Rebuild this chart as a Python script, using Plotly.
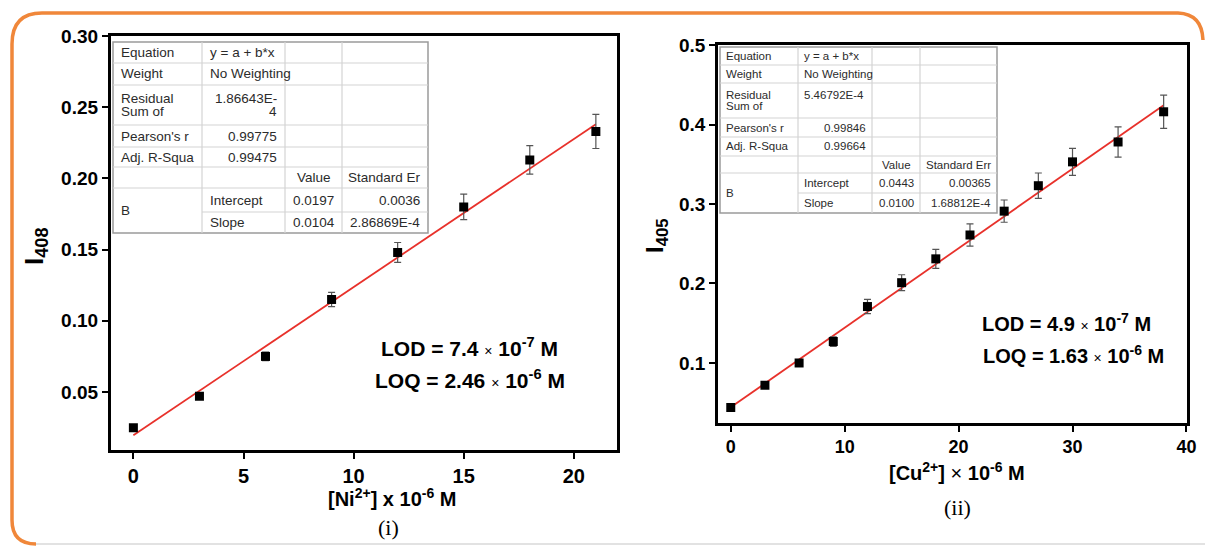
import plotly.graph_objects as go

W, H = 1205, 546

# ---------------- data ----------------
ni_conc = [0, 3, 6, 9, 12, 15, 18, 21]
ni_I408 = [0.025, 0.047, 0.075, 0.115, 0.148, 0.180, 0.213, 0.233]
ni_err = [0.002, 0.002, 0.003, 0.005, 0.007, 0.009, 0.010, 0.012]
ni_fit_a, ni_fit_b = 0.0197, 0.0104

cu_conc = [0, 3, 6, 9, 12, 15, 18, 21, 24, 27, 30, 34, 38]
cu_I405 = [0.044, 0.072, 0.100, 0.127, 0.171, 0.201, 0.231, 0.261, 0.291, 0.323, 0.353, 0.378, 0.416]
cu_err = [0.003, 0.004, 0.004, 0.006, 0.009, 0.010, 0.012, 0.014, 0.014, 0.016, 0.017, 0.019, 0.021]
cu_fit_a, cu_fit_b = 0.0443, 0.0100

ni_yticks = [0.05, 0.10, 0.15, 0.20, 0.25, 0.30]
ni_xticks = [0, 5, 10, 15, 20]
cu_yticks = [0.1, 0.2, 0.3, 0.4, 0.5]
cu_xticks = [0, 10, 20, 30, 40]

ni_table = {
    "equation": "y = a + b*x", "weight": "No Weighting",
    "rss": ["1.86643E-", "4"], "pearson": "0.99775", "adjr2": "0.99475",
    "intercept": ["0.0197", "0.0036"], "slope": ["0.0104", "2.86869E-4"],
    "se_head": "Standard Er",
}
cu_table = {
    "equation": "y = a + b*x", "weight": "No Weighting",
    "rss": ["5.46792E-4", ""], "pearson": "0.99846", "adjr2": "0.99664",
    "intercept": ["0.0443", "0.00365"], "slope": ["0.0100", "1.68812E-4"],
    "se_head": "Standard Err",
}


def px(x):
    return x / W


def py(y):
    return 1 - y / H


FONT = "Arial, Liberation Sans, sans-serif"
SERIF = "Times New Roman, Liberation Serif, serif"

fig = go.Figure()


def add_panel(xs, ys, errs, a, b, xa, ya):
    xfit = [min(xs), max(xs)]
    yfit = [a + b * v for v in xfit]
    fig.add_trace(go.Scatter(x=xfit, y=yfit, mode="lines",
                             line=dict(color="#E8312B", width=1.8),
                             xaxis=xa, yaxis=ya, showlegend=False, hoverinfo="skip"))
    fig.add_trace(go.Scatter(x=xs, y=ys, mode="markers",
                             marker=dict(symbol="square", size=9, color="black"),
                             error_y=dict(type="data", array=errs, visible=True,
                                          color="#555555", thickness=1.2, width=3.5),
                             xaxis=xa, yaxis=ya, showlegend=False))


add_panel(ni_conc, ni_I408, ni_err, ni_fit_a, ni_fit_b, "x", "y")
add_panel(cu_conc, cu_I405, cu_err, cu_fit_a, cu_fit_b, "x2", "y2")

axis_common = dict(showgrid=False, zeroline=False, showline=True, linecolor="black",
                   linewidth=2.6, mirror=True, ticks="outside", ticklen=6, tickwidth=2,
                   tickcolor="black", automargin=False)


def tf(size):
    return dict(family=FONT, size=size, color="black", weight="bold")


fig.update_layout(
    width=W, height=H, margin=dict(l=0, r=0, t=0, b=0),
    paper_bgcolor="white", plot_bgcolor="white",
    xaxis=dict(domain=[px(110.7), px(617)], range=[-1.03, 21.96], tickvals=ni_xticks,
               tickfont=tf(20), anchor="y", **axis_common),
    yaxis=dict(domain=[py(450), py(36)], range=[0.0093, 0.30], tickvals=ni_yticks,
               tickformat=".2f", tickfont=tf(19), anchor="x", **axis_common),
    xaxis2=dict(domain=[px(718), px(1187)], range=[-1.12, 40.05], tickvals=cu_xticks,
                tickfont=tf(18), anchor="y2", **axis_common),
    yaxis2=dict(domain=[py(423), py(45)], range=[0.0245, 0.5], tickvals=cu_yticks,
                tickformat=".1f", tickfont=tf(19), anchor="x2", **axis_common),
)

shapes = []
annotations = []


def ann(x, y, text, size, xanchor="center", family=FONT, color="black", angle=0):
    annotations.append(dict(x=px(x), y=py(y), xref="paper", yref="paper", text=text,
                            showarrow=False, xanchor=xanchor, yanchor="middle",
                            textangle=angle, font=dict(family=family, size=size, color=color)))


def hline(x0, x1, y, color, width):
    shapes.append(dict(type="line", xref="paper", yref="paper", x0=px(x0), x1=px(x1),
                       y0=py(y), y1=py(y), line=dict(color=color, width=width), layer="above"))


def vline(x, y0, y1, color, width):
    shapes.append(dict(type="line", xref="paper", yref="paper", x0=px(x), x1=px(x),
                       y0=py(y0), y1=py(y1), line=dict(color=color, width=width), layer="above"))


def draw_table(cols, rows, t, fs, pad, rss_left):
    c0, c1, c2, c3, c4 = cols
    r = rows
    shapes.append(dict(type="rect", xref="paper", yref="paper", x0=px(c0), x1=px(c4),
                       y0=py(r[-1]), y1=py(r[0]), fillcolor="white",
                       line=dict(color="#9a9a9a", width=1.5), layer="above"))
    grid = "#d4d4d4"
    for i, yy in enumerate(r[1:-1], start=1):
        if i == 7:
            hline(c1, c4, yy, grid, 1.2)
        else:
            hline(c0, c4, yy, grid, 1.2)
    for cx in (c1, c2, c3):
        vline(cx, r[0], r[-1], grid, 1.2)
    col = "#2b2b2b"
    mid = [(r[i] + r[i + 1]) / 2 for i in range(len(r) - 1)]
    ann(c0 + pad, mid[0], "Equation", fs, "left", color=col)
    ann(c1 + pad, mid[0], t["equation"], fs, "left", color=col)
    ann(c0 + pad, mid[1], "Weight", fs, "left", color=col)
    ann(c1 + pad, mid[1], t["weight"], fs, "left", color=col)
    ann(c0 + pad, mid[2] - fs * 0.5, "Residual", fs, "left", color=col)
    ann(c0 + pad, mid[2] + fs * 0.5, "Sum of", fs, "left", color=col)
    if rss_left:
        ann(c1 + pad, mid[2] - fs * 0.5, t["rss"][0], fs, "left", color=col)
    else:
        ann(c2 - pad, mid[2] - fs * 0.5, t["rss"][0], fs, "right", color=col)
        ann(c2 - pad, mid[2] + fs * 0.5, t["rss"][1], fs, "right", color=col)
    ann(c0 + pad, mid[3], "Pearson's r", fs, "left", color=col)
    ann(c2 - pad, mid[3], t["pearson"], fs, "right", color=col)
    ann(c0 + pad, mid[4], "Adj. R-Squa", fs, "left", color=col)
    ann(c2 - pad, mid[4], t["adjr2"], fs, "right", color=col)
    ann((c2 + c3) / 2, mid[5], "Value", fs, "center", color=col)
    ann((c3 + c4) / 2, mid[5], t["se_head"], fs, "center", color=col)
    ann(c0 + pad, (r[6] + r[8]) / 2, "B", fs, "left", color=col)
    ann(c1 + pad, mid[6], "Intercept", fs, "left", color=col)
    ann((c2 + c3) / 2, mid[6], t["intercept"][0], fs, "center", color=col)
    ann(c4 - pad, mid[6], t["intercept"][1], fs, "right", color=col)
    ann(c1 + pad, mid[7], "Slope", fs, "left", color=col)
    ann((c2 + c3) / 2, mid[7], t["slope"][0], fs, "center", color=col)
    ann(c4 - pad, mid[7], t["slope"][1], fs, "right", color=col)


draw_table([113, 202, 285, 342, 428], [42, 63, 85, 125, 147, 167, 188, 212, 233],
           ni_table, 13.5, 6, rss_left=False)
draw_table([720, 798, 872, 920, 997], [47, 65, 83, 118, 137, 156, 173, 193, 213],
           cu_table, 11.5, 4, rss_left=True)

# axis titles
ann(36, 246, "<b>I<sub>408</sub></b>", 26, angle=-90)
ann(656, 236, "<b>I<sub>405</sub></b>", 24, angle=-90)
ann(392, 497, "<b>[Ni<sup>2+</sup>] x 10<sup>-6</sup> M</b>", 20)
ann(957, 471, "<b>[Cu<sup>2+</sup>] </b>×<b> 10<sup>-6</sup> M</b>", 20)
ann(388, 527, "(i)", 22, family=SERIF)
ann(958, 507, "(ii)", 22, family=SERIF)

# LOD / LOQ labels
x_small = "<span style='font-size:14px'>×</span>"
ann(469, 347, "<b>LOD = 7.4 </b>" + x_small + "<b> 10<sup>-7</sup> M</b>", 21)
ann(470, 379, "<b>LOQ = 2.46 </b>" + x_small + "<b> 10<sup>-6</sup> M</b>", 21)
ann(1066, 322, "<b>LOD = 4.9 </b>" + x_small + "<b> 10<sup>-7</sup> M</b>", 20)
ann(1073, 354, "<b>LOQ = 1.63 </b>" + x_small + "<b> 10<sup>-6</sup> M</b>", 20)


def P(x, y):
    return f"{px(x):.5f},{py(y):.5f}"


path = ("M " + P(12, 520) + " L " + P(12, 44) + " Q " + P(12, 13) + " " + P(42, 13) +
        " L " + P(1178, 13) + " Q " + P(1202, 14) + " " + P(1203, 40))
shapes.append(dict(type="path", xref="paper", yref="paper", path=path,
                   line=dict(color="#F0873A", width=3.5), layer="above"))
path2 = "M " + P(12, 520) + " Q " + P(12, 544) + " " + P(36, 544)
shapes.append(dict(type="path", xref="paper", yref="paper", path=path2,
                   line=dict(color="#F0873A", width=3.5), layer="above"))
hline(36, 1205, 544, "#d9d9d9", 1.5)

fig.update_layout(shapes=shapes, annotations=annotations)
fig.write_html("out.html")
